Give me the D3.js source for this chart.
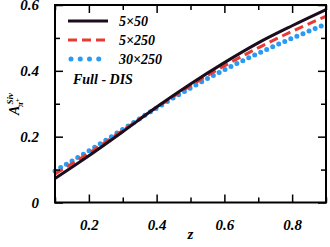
<!DOCTYPE html>
<html>
<head>
<meta charset="utf-8">
<script src="https://cdn.jsdelivr.net/npm/d3@7"></script>
<style>
  body { margin: 0; background: #fff; }
  text { font-family: "Liberation Serif", "Times New Roman", serif; font-weight: bold; font-style: italic; }
</style>
</head>
<body>
<svg width="330" height="247"></svg>
<script>
var zValues = [0.1, 0.2, 0.3, 0.4, 0.5, 0.6, 0.7, 0.8, 0.9];
var s5x50   = [0.073, 0.142, 0.215, 0.290, 0.360, 0.425, 0.485, 0.537, 0.586];
var s5x250  = [0.087, 0.150, 0.219, 0.289, 0.355, 0.415, 0.470, 0.520, 0.566];
var s30x250 = [0.096, 0.157, 0.222, 0.287, 0.348, 0.403, 0.453, 0.499, 0.542];
var seriesNames = ["5\u00d750", "5\u00d7250", "30\u00d7250"];
var xTicks = [0.2, 0.4, 0.6, 0.8];
var yTicks = [0, 0.2, 0.4, 0.6];

var svg = d3.select("svg");
var plotL = 55, plotR = 326, plotT = 5, plotB = 202.5;

var x = d3.scaleLinear().domain([0.1, 0.9]).range([plotL, plotR]);
var y = d3.scaleLinear().domain([0, 0.6]).range([plotB, plotT]);

var line = d3.line()
    .x(function(d) { return x(d[0]); })
    .y(function(d) { return y(d[1]); })
    .curve(d3.curveMonotoneX);

function pairs(vals) { return zValues.map(function(z, i) { return [z, vals[i]]; }); }

var styles = [
  { color: "#1b0c1e", dash: null, width: 3, cap: "butt" },
  { color: "#e83a33", dash: "9,5", width: 3, cap: "butt" },
  { color: "#2b9af3", dash: "0,6.6", width: 5, cap: "round" }
];
var allSeries = [s5x50, s5x250, s30x250];

// curves, drawn in reverse so black is on top
[2, 1, 0].forEach(function(i) {
  var st = styles[i];
  svg.append("path")
      .datum(pairs(allSeries[i]))
      .attr("d", line)
      .attr("fill", "none")
      .attr("stroke", st.color)
      .attr("stroke-width", st.width)
      .attr("stroke-linecap", st.cap)
      .attr("stroke-dasharray", st.dash);
});

// axes with inward ticks on all four sides
var xMinor = [0.1, 0.3, 0.5, 0.7, 0.9];
var yMinor = [0.1, 0.3, 0.5];

function addAxis(axis, tx, ty, showLabels) {
  var g = svg.append("g").attr("transform", "translate(" + tx + "," + ty + ")").call(axis);
  g.select(".domain").remove();
  g.selectAll("line").attr("stroke", "#000").attr("stroke-width", 1.5);
  if (!showLabels) g.selectAll("text").remove();
  return g;
}

var gx = addAxis(d3.axisBottom(x).tickValues(xTicks).tickSize(-8).tickPadding(17).tickFormat(d3.format(".1f")), 0, plotB, true);
addAxis(d3.axisBottom(x).tickValues(xMinor).tickSize(-5), 0, plotB, false);
addAxis(d3.axisTop(x).tickValues(xTicks).tickSize(-8), 0, plotT, false);
addAxis(d3.axisTop(x).tickValues(xMinor).tickSize(-5), 0, plotT, false);

var gy = addAxis(d3.axisLeft(y).tickValues(yTicks).tickSize(-8).tickPadding(16)
    .tickFormat(function(d) { return d === 0 ? "0" : d3.format(".1f")(d); }), plotL, 0, true);
addAxis(d3.axisLeft(y).tickValues(yMinor).tickSize(-5), plotL, 0, false);
addAxis(d3.axisRight(y).tickValues(yTicks).tickSize(-8), plotR, 0, false);
addAxis(d3.axisRight(y).tickValues(yMinor).tickSize(-5), plotR, 0, false);

gx.selectAll("text").attr("font-size", 15).attr("fill", "#000")
    .attr("font-family", "Liberation Serif").attr("font-weight", "bold").attr("font-style", "italic");
gy.selectAll("text").attr("font-size", 15).attr("fill", "#000")
    .attr("font-family", "Liberation Serif").attr("font-weight", "bold").attr("font-style", "italic");

// frame
svg.append("rect")
    .attr("x", plotL).attr("y", plotT)
    .attr("width", plotR - plotL).attr("height", plotB - plotT)
    .attr("fill", "none").attr("stroke", "#000").attr("stroke-width", 2);

// axis titles
svg.append("text")
    .attr("x", (plotL + plotR) / 2).attr("y", 239)
    .attr("text-anchor", "middle").attr("font-size", 15)
    .text("z");

var yl = svg.append("text")
    .attr("transform", "translate(19,104) rotate(-90)")
    .attr("text-anchor", "middle").attr("font-size", 14);
yl.append("tspan").text("A");
yl.append("tspan").attr("font-size", 9).attr("dy", -6).attr("dx", 1).text("Siv");
yl.append("tspan").attr("font-size", 9).attr("dy", 10).attr("dx", -14).text("\u03c0");
yl.append("tspan").attr("font-size", 7).attr("dy", -3).text("+");

// legend
var legendY = [21, 40, 59];
seriesNames.forEach(function(name, i) {
  var st = styles[i];
  var dotted = st.dash === "0,6.6";
  svg.append("line")
      .attr("x1", dotted ? 71 : 68).attr("x2", 108)
      .attr("y1", legendY[i]).attr("y2", legendY[i])
      .attr("stroke", st.color)
      .attr("stroke-width", st.width)
      .attr("stroke-linecap", st.cap)
      .attr("stroke-dasharray", dotted ? "0,9.25" : st.dash);
  svg.append("text")
      .attr("x", 119).attr("y", legendY[i] + 5)
      .attr("font-size", 14).attr("font-weight", "normal")
      .text(name);
});
svg.append("text")
    .attr("x", 73).attr("y", 84)
    .attr("font-size", 14)
    .text("Full - DIS");
</script>
</body>
</html>
